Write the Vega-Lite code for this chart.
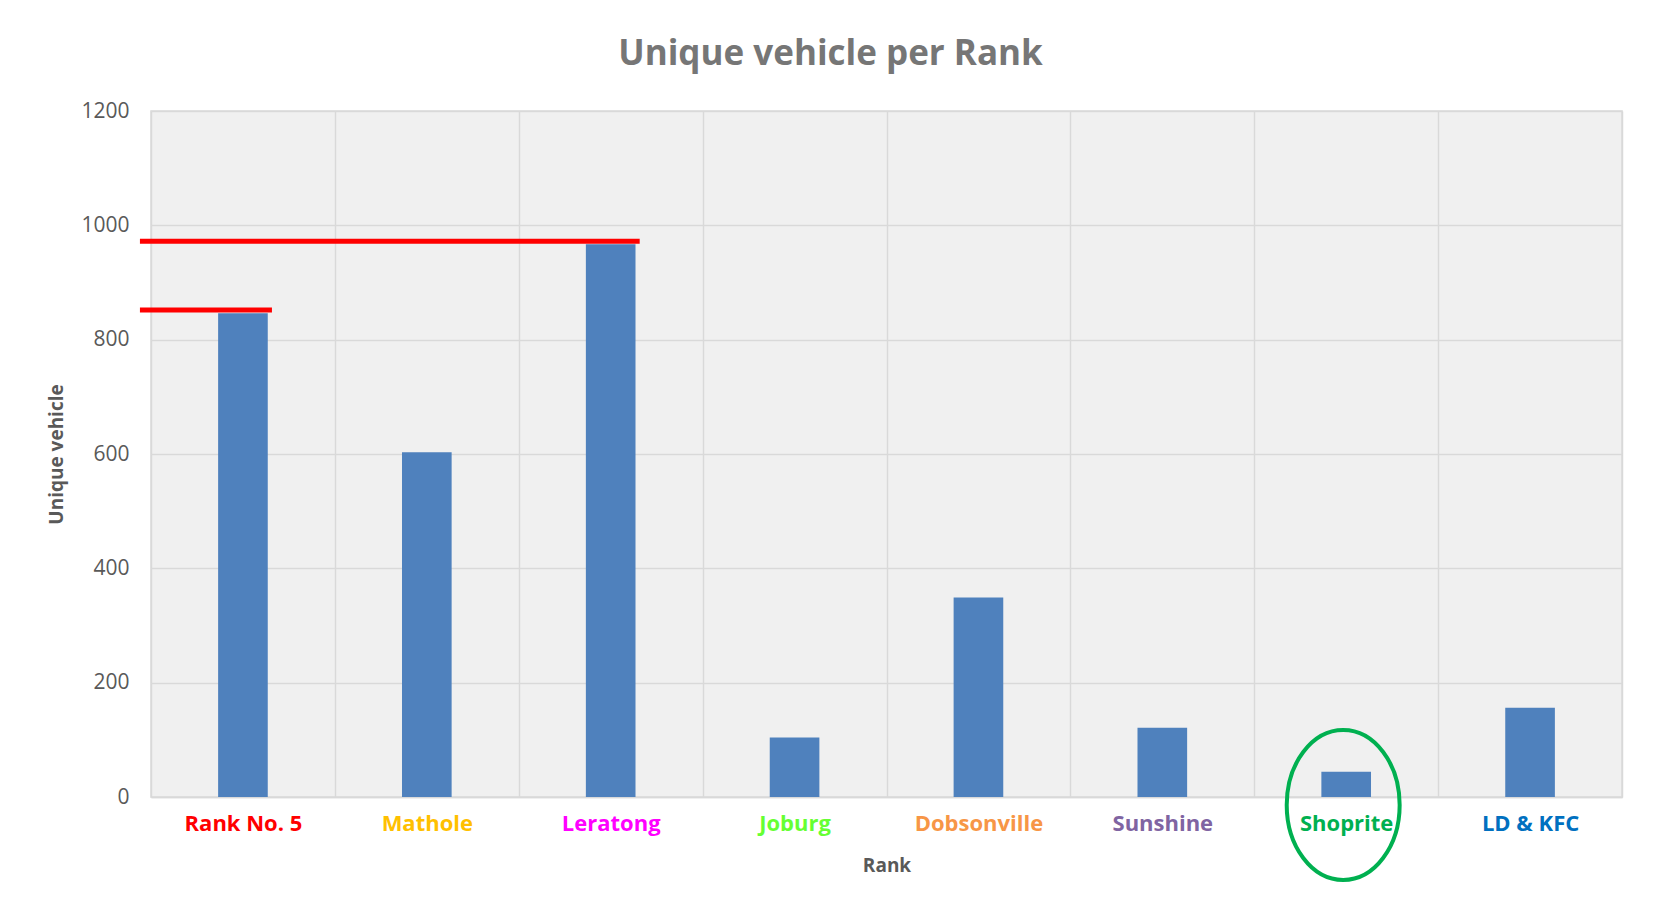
{
  "$schema": "https://vega.github.io/schema/vega-lite/v6.json",
  "autosize": "none",
  "width": 1471,
  "height": 686,
  "padding": {"left": 151, "top": 111, "right": 31, "bottom": 113},
  "background": "white",
  "datasets": {
    "bars": [
      {"Rank": "Rank No. 5", "Unique vehicle": 846},
      {"Rank": "Mathole", "Unique vehicle": 603},
      {"Rank": "Leratong", "Unique vehicle": 967},
      {"Rank": "Joburg", "Unique vehicle": 104},
      {"Rank": "Dobsonville", "Unique vehicle": 349},
      {"Rank": "Sunshine", "Unique vehicle": 121},
      {"Rank": "Shoprite", "Unique vehicle": 44},
      {"Rank": "LD & KFC", "Unique vehicle": 156}
    ],
    "lines": [
      {"from": "Rank No. 5", "to": "Leratong", "level": 972},
      {"from": "Rank No. 5", "to": "Rank No. 5", "level": 852}
    ],
    "circle": [
      {"Rank": "Shoprite", "level": 0}
    ]
  },
  "title": {
    "text": "Unique vehicle per Rank",
    "font": "Open Sans",
    "fontSize": 35,
    "fontWeight": "bold",
    "color": "#767676",
    "anchor": "middle",
    "dx": -56,
    "offset": 28
  },
  "config": {
    "view": {"fill": "#f0f0f0", "stroke": "#d9d9d9", "strokeWidth": 1.5},
    "axis": {"gridColor": "#d9d9d9", "gridWidth": 1.5, "gridOpacity": 1}
  },
  "layer": [
    {
      "data": {"name": "bars"},
      "mark": {"type": "bar", "width": {"band": 0.27}, "color": "#4f81bd"},
      "encoding": {
        "x": {
          "field": "Rank",
          "type": "nominal",
          "sort": null,
          "scale": {"paddingInner": 0, "paddingOuter": 0},
          "axis": {
            "title": "Rank",
            "titleFont": "Open Sans",
            "titleFontSize": 19,
            "titleFontWeight": "bold",
            "titleColor": "#595959",
            "titlePadding": 22,
            "labelAngle": 0,
            "labelFont": "Open Sans",
            "labelFontSize": 22,
            "labelFontWeight": "bold",
            "labelPadding": 16,
            "labelColor": {
              "condition": [
                {"test": "datum.value == 'Rank No. 5'", "value": "#ff0000"},
                {"test": "datum.value == 'Mathole'", "value": "#ffc000"},
                {"test": "datum.value == 'Leratong'", "value": "#ff00ff"},
                {"test": "datum.value == 'Joburg'", "value": "#66ff33"},
                {"test": "datum.value == 'Dobsonville'", "value": "#f79646"},
                {"test": "datum.value == 'Sunshine'", "value": "#8064a2"},
                {"test": "datum.value == 'Shoprite'", "value": "#00b050"}
              ],
              "value": "#0070c0"
            },
            "ticks": false,
            "grid": true,
            "tickBand": "extent",
            "domainColor": "#d9d9d9",
            "domainWidth": 1.5
          }
        },
        "y": {
          "field": "Unique vehicle",
          "type": "quantitative",
          "scale": {"domain": [0, 1200], "nice": false},
          "axis": {
            "title": "Unique vehicle",
            "titleFont": "Open Sans",
            "titleFontSize": 19,
            "titleFontWeight": "bold",
            "titleColor": "#595959",
            "titlePadding": 14,
            "values": [0, 200, 400, 600, 800, 1000, 1200],
            "format": "d",
            "labelFont": "Open Sans",
            "labelFontSize": 21,
            "labelColor": "#595959",
            "labelPadding": 22,
            "ticks": false,
            "domain": false,
            "grid": true
          }
        }
      }
    },
    {
      "data": {"name": "lines"},
      "mark": {"type": "rule", "color": "#ff0000", "strokeWidth": 5, "xOffset": -103, "x2Offset": 29},
      "encoding": {
        "x": {"field": "from", "type": "nominal", "sort": null},
        "x2": {"field": "to"},
        "y": {"field": "level", "type": "quantitative"}
      }
    },
    {
      "data": {"name": "circle"},
      "mark": {
        "type": "point",
        "shape": "M -0.753,0 A 0.753,1 0 1 1 0.753,0 A 0.753,1 0 1 1 -0.753,0 Z",
        "size": 22500,
        "filled": false,
        "stroke": "#00b050",
        "strokeWidth": 4,
        "opacity": 1,
        "xOffset": -3,
        "yOffset": 8
      },
      "encoding": {
        "x": {"field": "Rank", "type": "nominal", "sort": null},
        "y": {"field": "level", "type": "quantitative"}
      }
    }
  ]
}
